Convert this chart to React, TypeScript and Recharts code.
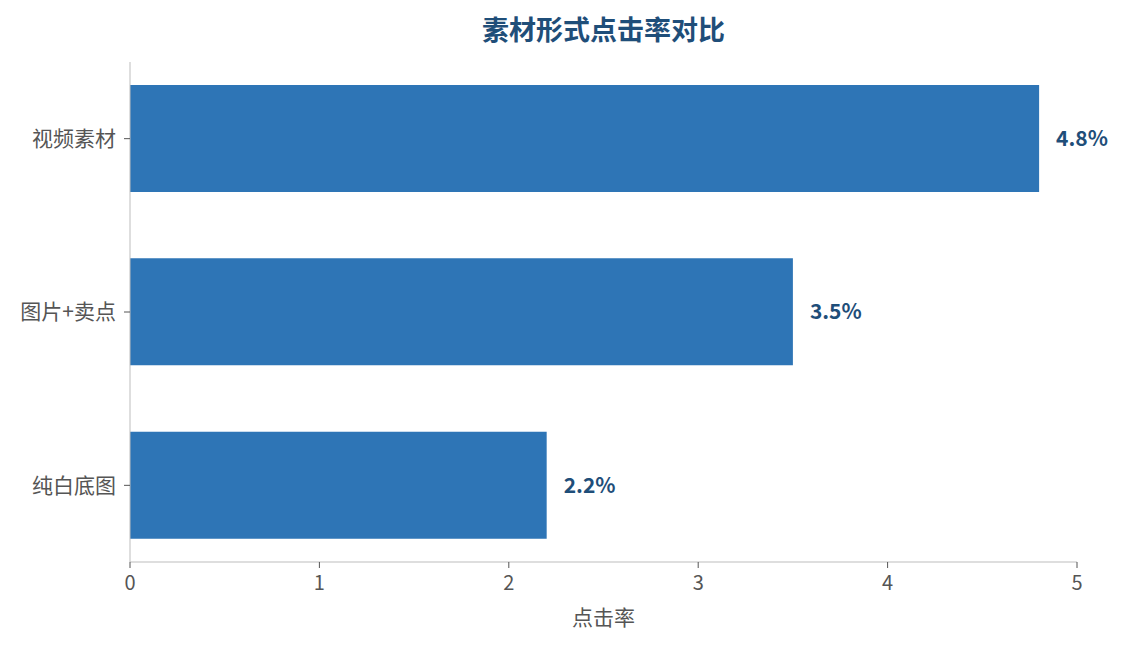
import React from "react";
import { BarChart, Bar, XAxis, YAxis, LabelList } from "recharts";

// === DATA ===
const categories = ["视频素材", "图片+卖点", "纯白底图"];
const clickRates = [4.8, 3.5, 2.2];
const xTicks = [0, 1, 2, 3, 4, 5];

const chartData = categories.map((name, i) => ({ name, rate: clickRates[i] }));

const FONT = '"Noto Sans CJK SC", "Noto Sans", sans-serif';

const App: React.FC = () => {
  return (
    <div style={{ position: "absolute", left: 0, top: 0, width: 1122, height: 645, background: "#fff", fontFamily: FONT }}>
      <div
        style={{
          position: "absolute",
          left: 130,
          width: 947,
          top: 11,
          textAlign: "center",
          fontSize: 27,
          lineHeight: "36px",
          fontWeight: "bold",
          color: "#1F4E79",
        }}
      >
        素材形式点击率对比
      </div>
      <BarChart
        width={1122}
        height={645}
        data={chartData}
        layout="vertical"
        margin={{ top: 62, right: 45, left: 0, bottom: 0 }}
      >
        <XAxis
          type="number"
          domain={[0, 5]}
          ticks={xTicks}
          height={83}
          stroke="#bdbdbd"
          tickLine={{ stroke: "#555" }}
          tickSize={6}
          tickMargin={8}
          tick={{ fill: "#555", fontSize: 20, fontFamily: FONT }}
          label={{ value: "点击率", position: "insideBottom", offset: 20, fill: "#555", fontSize: 21, fontFamily: FONT }}
        />
        <YAxis
          type="category"
          dataKey="name"
          width={130}
          padding={{ top: -10, bottom: -10 }}
          stroke="#bdbdbd"
          tickLine={{ stroke: "#555" }}
          tickSize={6}
          tickMargin={8}
          tick={{ fill: "#555", fontSize: 21, fontFamily: FONT }}
        />
        <Bar dataKey="rate" fill="#2E75B6" barSize={107} isAnimationActive={false}>
          <LabelList
            dataKey="rate"
            position="right"
            offset={17}
            formatter={(v: any) => `${v}%`}
            style={{ fill: "#1F4E79", fontSize: 21, fontWeight: "bold", fontFamily: FONT }}
          />
        </Bar>
      </BarChart>
    </div>
  );
};

export default App;
